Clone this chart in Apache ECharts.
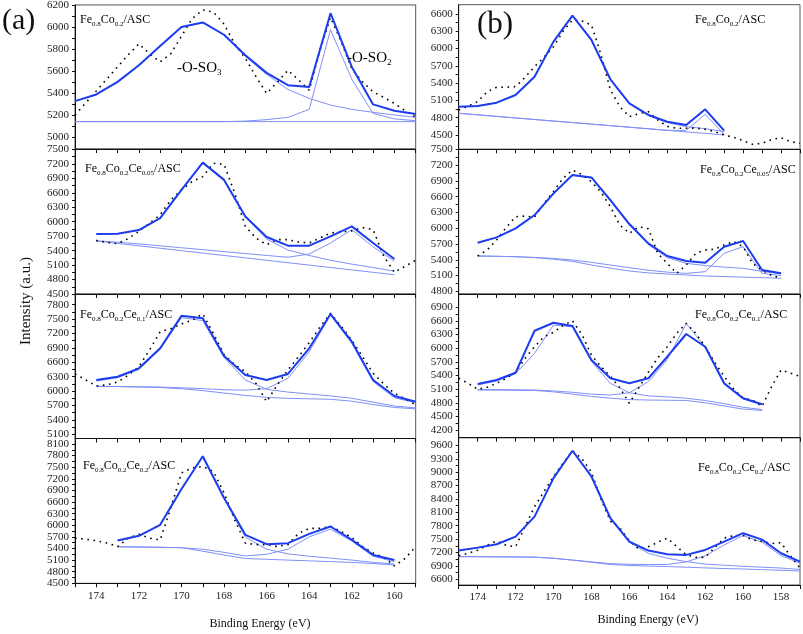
<!DOCTYPE html>
<html><head><meta charset="utf-8">
<script src="https://cdn.jsdelivr.net/npm/echarts@6/dist/echarts.min.js"></script>
<style>html,body{margin:0;padding:0;background:#fff}#c{width:803px;height:634px}</style>
</head><body><div id="c"></div><script>
// ---------- energies ----------
const fitE_L = [175,174,173,172,171,170,169,168,167,166,165,164,163,162,161,160,159];
const rawE_L = [175,174.5,174,173.5,173,172.5,172,171.5,171,170.5,170,169.5,169,168.5,168,167.5,167,166.5,166,165.5,165,164.5,164,163.5,163,162.5,162,161.5,161,160.5,160,159.5,159];
const fitE_R = [175,174,173,172,171,170,169,168,167,166,165,164,163,162,161,160,159,158,157];
const rawE_R = [175,174.5,174,173.5,173,172.5,172,171.5,171,170.5,170,169.5,169,168.5,168,167.5,167,166.5,166,165.5,165,164.5,164,163.5,163,162.5,162,161.5,161,160.5,160,159.5,159,158.5,158,157.5,157];

// ---------- tick labels ----------
const xLabels_L = [174,172,170,168,166,164,162,160];
const xLabels_R = [174,172,170,168,166,164,162,160,158];
const xTicks_L = [175,174,173,172,171,170,169,168,167,166,165,164,163,162,161,160,159];
const xTicks_R = [175,174,173,172,171,170,169,168,167,166,165,164,163,162,161,160,159,158,157];
const yLabels_a1 = [5000,5200,5400,5600,5800,6000,6200];
const yLabels_a2 = [4500,4800,5100,5400,5700,6000,6300,6600,6900,7200,7500];
const yLabels_a3 = [5100,5400,5700,6000,6300,6600,6900,7200,7500,7800];
const yLabels_a4 = [4500,4800,5100,5400,5700,6000,6300,6600,6900,7200,7500,7800,8100];
const yLabels_b1 = [4500,4800,5100,5400,5700,6000,6300,6600];
const yLabels_b2 = [4800,5100,5400,5700,6000,6300,6600,6900,7200,7500];
const yLabels_b3 = [4200,4500,4800,5100,5400,5700,6000,6300,6600,6900];
const yLabels_b4 = [6600,6900,7200,7500,7800,8100,8400,8700,9000,9300,9600];

// ---------- (a) Fe0.8Co0.2/ASC ----------
const a1_raw = [5200,5310,5420,5530,5640,5750,5850,5760,5685,5760,5920,6080,6160,6140,6030,5850,5718,5550,5397,5500,5609,5520,5427,5790,6090,5870,5620,5503,5412,5361,5306,5240,5180];
const a1_env = [5327,5388,5503,5655,5830,6003,6045,5933,5745,5585,5473,5457,6130,5639,5297,5239,5209];
const a1_c1  = [5327,5388,5503,5655,5830,6003,6045,5930,5735,5570,5433,5352,5291,5252,5225,5200,5180];
const a1_c2  = [5140,5140,5140,5140,5140,5140,5140,5140,5145,5158,5179,5252,5979,5527,5215,5165,5148];
const a1_base= [5140,5140,5140,5140,5140,5140,5140,5140,5140,5140,5140,5140,5140,5140,5140,5140,5140];
// ---------- (a) Ce0.05 ----------
const a2_raw = [null,null,5613,5570,5545,5650,5800,5970,6142,6453,6661,6833,6937,7214,7190,6594,5903,5662,5524,5628,5628,5580,5559,5662,5766,5790,5810,5880,5835,5282,4950,5075,5200];
const a2_env = [null,5745,5750,5828,6076,6662,7227,6869,6110,5683,5503,5503,5697,5903,5559,5228,null];
const a2_c1  = [null,5745,5750,5825,6070,6655,7220,6860,6100,5640,5413,5300,5200,5120,5050,4972,null];
const a2_c2  = [null,5605,5575,5540,5500,5460,5420,5380,5340,5300,5263,5330,5560,5835,5480,5180,null];
const a2_base= [null,5600,5550,5500,5450,5400,5350,5300,5250,5200,5150,5100,5050,5000,4950,4900,null];
// ---------- (a) Ce0.1 ----------
const a3_raw = [6357,6232,6107,6130,6190,6330,6510,6857,7238,7300,7398,7480,7606,7200,6760,6550,6405,6160,5780,6130,6440,6720,7010,7330,7620,7350,7060,6720,6370,6150,5954,5840,5711];
const a3_env = [null,6232,6300,6475,6892,7571,7517,6731,6336,6232,6357,6892,7606,7030,6232,5898,5780];
const a3_c1  = [null,6210,6280,6450,6870,7530,7470,6700,6232,6037,5980,5940,5900,5850,5770,5690,5650];
const a3_c2  = [null,6100,6095,6090,6085,6070,6050,6030,6020,6050,6267,6821,7585,6995,6200,5860,5760];
const a3_base= [null,6100,6095,6085,6075,6050,6010,5960,5910,5870,5850,5840,5830,5790,5720,5660,5630];
// ---------- (a) Ce0.2 ----------
const a4_raw = [5666,5640,5600,5540,5448,5666,5770,5666,5622,6444,7351,7480,7520,7390,6835,6140,5536,5500,5500,5450,5500,5790,5920,5920,5970,5840,5680,5450,5280,5170,4948,5140,5448];
const a4_env = [null,null,5604,5726,6011,6936,7782,6703,5752,5510,5536,5778,5967,5622,5233,5103,null];
const a4_c1  = [null,null,5600,5720,6000,6920,7770,6690,5692,5381,5260,5200,5150,5100,5040,5000,null];
const a4_c2  = [null,null,5440,5435,5430,5420,5380,5300,5207,5250,5381,5700,5900,5590,5200,5060,null];
const a4_base= [null,null,5448,5440,5430,5420,5330,5230,5140,5120,5100,5080,5060,5040,5010,4974,null];

// ---------- (b) Fe0.8Co0.2/ASC ----------
const b1_raw = [4934,5000,5079,5250,5328,5330,5340,5500,5686,5850,6033,6300,6496,6480,6410,5900,5281,4992,4818,4870,4905,4760,4650,4617,4617,4620,4600,4560,4500,4460,4402,4339,4356,4420,4454,4384,4356];
const b1_env = [4992,5004,5061,5195,5512,6120,6571,6149,5467,5050,4848,4731,4674,4946,4575,null,null,null,null];
const b1_c1  = [4992,5004,5061,5195,5512,6120,6571,6149,5467,5045,4840,4715,4645,4610,4560,null,null,null,null];
const b1_c2  = [4877,4850,4823,4796,4769,4742,4716,4689,4662,4635,4608,4581,4580,4860,4510,null,null,null,null];
const b1_base= [4877,4850,4823,4796,4769,4742,4716,4689,4662,4635,4608,4581,4554,4528,4501,null,null,null,null];
// ---------- (b) Ce0.05 ----------
const b2_raw = [null,null,5471,5585,5775,6010,6218,6230,6210,6472,6700,6947,7105,7020,6883,6690,6408,6060,5902,6028,5990,5522,5332,5142,5300,5522,5585,5600,5680,5750,5648,5330,5205,5100,5050,null,null];
const b2_env = [null,5724,5826,5997,6250,6662,7010,6966,6535,6079,5712,5471,5376,5344,5648,5756,5205,5142,null];
const b2_c1  = [null,5720,5820,5990,6240,6650,7000,6955,6520,6060,5690,5440,5332,5290,5260,5237,5180,5130,null];
const b2_c2  = [null,5471,5466,5458,5445,5425,5395,5350,5300,5250,5200,5165,5140,5174,5522,5648,5142,5100,null];
const b2_base= [null,5471,5466,5458,5440,5410,5370,5300,5240,5186,5150,5130,5110,5091,5080,5070,5060,5047,null];
// ---------- (b) Ce0.1 ----------
const b3_raw = [5338,5228,5096,5140,5228,5338,5470,5778,6033,6253,6350,6500,6605,6300,5850,5600,5380,5130,4788,5130,5470,5790,6030,6330,6548,6330,6030,5690,5380,5100,4900,4860,4720,5153,5520,5450,5380];
const b3_env = [null,5213,5301,5461,6385,6561,6489,5741,5338,5228,5338,5813,6313,6033,5228,4898,4766,null,null];
const b3_c1  = [null,5190,5280,5440,5888,6511,6470,5710,5228,5021,4950,4930,4900,4850,4780,4700,4650,null,null];
const b3_c2  = [null,5090,5090,5085,5080,5060,5030,4990,4970,5020,5263,5750,6540,6030,5200,4880,4760,null,null];
const b3_base= [null,5080,5078,5075,5070,5040,4990,4940,4900,4870,4860,4855,4850,4800,4730,4660,4630,null,null];
// ---------- (b) Ce0.2 ----------
const b4_raw = [7130,7180,7250,7360,7460,7360,7330,7780,8230,8567,8900,9200,9480,9300,9000,8400,7900,7750,7460,7280,7330,7430,7520,7330,7150,7090,7090,7310,7520,7580,7580,7480,7450,7400,7420,7120,6850];
const b4_env = [7242,7309,7385,7556,8005,8868,9481,8904,7969,7444,7242,7161,7146,7257,7444,7632,7489,7183,6995];
const b4_c1  = [7240,7305,7380,7550,8000,8860,9470,8895,7960,7430,7183,7071,6995,6940,6915,6890,6870,6850,6820];
const b4_c2  = [7107,7105,7102,7100,7095,7070,7030,6990,6950,6935,6930,6930,6990,7124,7370,7580,7430,7130,6958];
const b4_base= [7107,7105,7102,7100,7095,7070,7030,6980,6930,6910,6895,6885,6870,6855,6840,6830,6815,6800,6785];

// ---------- panel layout ----------
const panels = [
  {col:0, top:4.5,   h:144.5, min:4890, max:6205, yl:yLabels_a1, step:200, raw:a1_raw, env:a1_env, c1:a1_c1, c2:a1_c2, base:a1_base, bottom:false},
  {col:0, top:149,   h:145,   min:4500, max:7510, yl:yLabels_a2, step:300, raw:a2_raw, env:a2_env, c1:a2_c1, c2:a2_c2, base:a2_base, bottom:false},
  {col:0, top:294,   h:144.5, min:5013, max:8023, yl:yLabels_a3, step:300, raw:a3_raw, env:a3_env, c1:a3_c1, c2:a3_c2, base:a3_base, bottom:false},
  {col:0, top:438.5, h:144.8, min:4500, max:8241, yl:yLabels_a4, step:300, raw:a4_raw, env:a4_env, c1:a4_c1, c2:a4_c2, base:a4_base, bottom:true},
  {col:1, top:4.7,   h:144.6, min:4252, max:6761, yl:yLabels_b1, step:300, raw:b1_raw, env:b1_env, c1:b1_c1, c2:b1_c2, base:b1_base, bottom:false},
  {col:1, top:149.3, h:144.7, min:4749, max:7500, yl:yLabels_b2, step:300, raw:b2_raw, env:b2_env, c1:b2_c1, c2:b2_c2, base:b2_base, bottom:false},
  {col:1, top:294,   h:143.7, min:4031, max:7193, yl:yLabels_b3, step:300, raw:b3_raw, env:b3_env, c1:b3_c1, c2:b3_c2, base:b3_base, bottom:false},
  {col:1, top:437.7, h:147.3, min:6471, max:9773, yl:yLabels_b4, step:300, raw:b4_raw, env:b4_env, c1:b4_c1, c2:b4_c2, base:b4_base, bottom:true}
];
const cols = [
  {left:75,    width:340.7, xmin:159, xmax:175, fitE:fitE_L, rawE:rawE_L, xl:xLabels_L, xt:xTicks_L},
  {left:458.7, width:341.3, xmin:157, xmax:175, fitE:fitE_R, rawE:rawE_R, xl:xLabels_R, xt:xTicks_R}
];

const SERIF = '"Liberation Serif", "DejaVu Serif", serif';
const THICK = '#1c3cf0';
const THIN = '#7f90f6';

function pairs(xs, ys){ const out=[]; for(let i=0;i<xs.length;i++){ if(ys[i]!=null) out.push([xs[i], ys[i]]); } return out; }
function minorTicks(lbls, step){ const out=[]; for(let i=0;i<lbls.length;i++){ out.push(lbls[i]); if(i<lbls.length-1) out.push(lbls[i]+step/2);} return out; }
const plain = v => String(Math.round(v));

const grid=[], xAxis=[], yAxis=[], series=[];
panels.forEach((p,i)=>{
  const c = cols[p.col];
  grid.push({left:c.left, top:p.top, width:c.width, height:p.h, show:true, borderColor:'#555', borderWidth:1, backgroundColor:'transparent'});
  xAxis.push({gridIndex:i, type:'value', min:c.xmin, max:c.xmax, inverse:true,
    axisLine:{show:true, onZero:false, lineStyle:{color:'#111', width:1}},
    axisTick:{show:true, customValues:c.xt, length:4, lineStyle:{color:'#111'}},
    axisLabel:{show:p.bottom, customValues:c.xl, formatter:plain, fontSize:11, fontFamily:SERIF, color:'#222', margin:7},
    splitLine:{show:false}});
  yAxis.push({gridIndex:i, type:'value', min:p.min, max:p.max,
    axisLine:{show:true, onZero:false, lineStyle:{color:'#111', width:1}},
    axisTick:{show:true, customValues:minorTicks(p.yl,p.step), length:3, lineStyle:{color:'#111'}},
    axisLabel:{show:true, customValues:p.yl, formatter:plain, fontSize:11, fontFamily:SERIF, color:'#222', margin:6},
    splitLine:{show:false}});
  const common = {type:'line', xAxisIndex:i, yAxisIndex:i, showSymbol:false, symbol:'none', silent:true, animation:false, clip:true};
  series.push(Object.assign({}, common, {data:pairs(c.fitE,p.base), lineStyle:{color:THIN, width:1}, z:2}));
  series.push(Object.assign({}, common, {data:pairs(c.fitE,p.c2), lineStyle:{color:THIN, width:1}, z:2}));
  series.push(Object.assign({}, common, {data:pairs(c.fitE,p.c1), lineStyle:{color:THIN, width:1}, z:2}));
  series.push(Object.assign({}, common, {data:pairs(c.rawE,p.raw), lineStyle:{color:'#000', width:1.6, type:[1.6,4.6]}, z:3}));
  series.push(Object.assign({}, common, {data:pairs(c.fitE,p.env), lineStyle:{color:THICK, width:2}, z:4}));
});

const rich = {
  n:{fontSize:12, fontFamily:SERIF, color:'#111', lineHeight:15},
  s:{fontSize:7, fontFamily:SERIF, color:'#111', lineHeight:7, verticalAlign:'bottom'},
  N:{fontSize:15, fontFamily:SERIF, color:'#111', lineHeight:18},
  S:{fontSize:9, fontFamily:SERIF, color:'#111', lineHeight:9, verticalAlign:'bottom'}
};
const L0 = '{n|Fe}{s|0.8}{n|Co}{s|0.2}{n|/ASC}';
const L1 = '{n|Fe}{s|0.8}{n|Co}{s|0.2}{n|Ce}{s|0.05}{n|/ASC}';
const L2 = '{n|Fe}{s|0.8}{n|Co}{s|0.2}{n|Ce}{s|0.1}{n|/ASC}';
const L3 = '{n|Fe}{s|0.8}{n|Co}{s|0.2}{n|Ce}{s|0.2}{n|/ASC}';
function txt(left, top, text){ return {type:'text', left:left, top:top, z:100, style:{text:text, rich:rich}}; }

const graphic = [
  txt(80,14,L0), txt(85,163,L1), txt(80,309,L2), txt(83,460,L3),
  txt(695,14,L0), txt(700,164,L1), txt(695,309,L2), txt(698,462,L3),
  txt(177,61,'{N|-O-SO}{S|3}'), txt(347,51,'{N|-O-SO}{S|2}'),
  {type:'text', left:2, top:6, style:{text:'(a)', fontSize:30, fontFamily:SERIF, fill:'#111'}},
  {type:'text', left:477, top:9, style:{text:'(b)', fontSize:31, fontFamily:SERIF, fill:'#111'}},
  {type:'text', x:26, y:301, rotation:Math.PI/2, style:{text:'Intensity (a.u.)', fontSize:15, fontFamily:SERIF, fill:'#111', align:'center', verticalAlign:'middle'}},
  {type:'text', x:260, y:624, style:{text:'Binding Energy (eV)', fontSize:12, fontFamily:SERIF, fill:'#111', align:'center', verticalAlign:'middle'}},
  {type:'text', x:648, y:620, style:{text:'Binding Energy (eV)', fontSize:12, fontFamily:SERIF, fill:'#111', align:'center', verticalAlign:'middle'}}
];

const chart = echarts.init(document.getElementById('c'), null, {renderer:'canvas'});
chart.setOption({animation:false, backgroundColor:'#fff', grid, xAxis, yAxis, series, graphic});
</script></body></html>
